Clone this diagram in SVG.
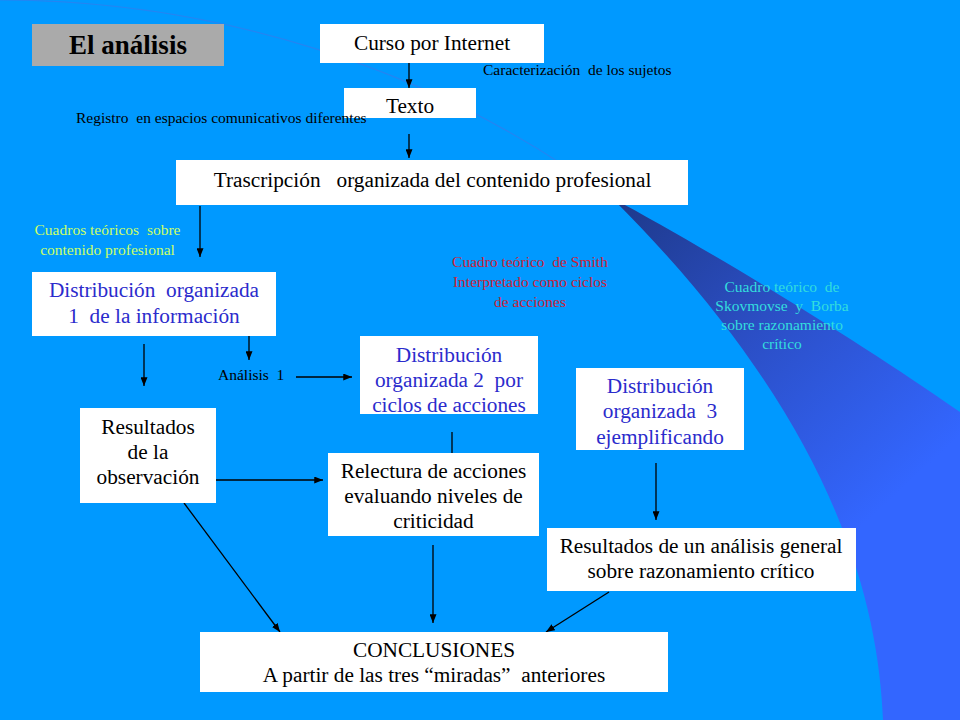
<svg xmlns="http://www.w3.org/2000/svg" width="960" height="720" viewBox="0 0 960 720">
<style>
.box{fill:#ffffff}
.t{font-size:21.3px;text-anchor:middle;fill:#000000;white-space:pre}
.b{fill:#2b2bcc}
.s{font-size:15.5px;fill:#000000;white-space:pre}
.m{text-anchor:middle}
.green{fill:#ccff66}
.red{fill:#cc2238}
.cyan{fill:#33dddd}
.ln{stroke:#000000;stroke-width:1.3;fill:none}
.arr{marker-end:url(#ah)}
</style>
<defs>
<marker id="ah" viewBox="0 0 10 8" refX="10" refY="4" markerWidth="9" markerHeight="7" markerUnits="userSpaceOnUse" orient="auto">
<path d="M0,0 L10,4 L0,8 Z" fill="#000000"/>
</marker>
<linearGradient id="wg" gradientUnits="userSpaceOnUse" x1="620" y1="205" x2="890" y2="500">
<stop offset="0" stop-color="#1e3a8c"/>
<stop offset="0.45" stop-color="#2b4ec4"/>
<stop offset="1" stop-color="#3366ff"/>
</linearGradient>
</defs>
<rect x="0" y="0" width="960" height="720" fill="#0099ff"/>
<g id="decoration">
<path d="M0,0 C200,0 430,60 620,205" fill="none" stroke="#2485f2" stroke-width="1.2"/>
<path d="M612,198 C700,245 850,335 960,412 L960,720 L883,720 C878,600 835,420 612,198 Z" fill="url(#wg)"/>
</g>
<g id="title">
<rect x="32" y="24" width="192" height="42" fill="#aaaaaa"/>
<text x="128" y="54" font-family="'Liberation Serif', 'Times New Roman', serif" font-size="27" font-weight="bold" text-anchor="middle" fill="#000000">El análisis</text>
</g>
<g id="connectors">
<line class="ln arr" x1="409" y1="57" x2="409" y2="88"/>
<line class="ln arr" x1="409" y1="134" x2="409" y2="158"/>
<line class="ln arr" x1="200" y1="206" x2="200" y2="257"/>
<line class="ln arr" x1="249" y1="336" x2="249" y2="360"/>
<line class="ln arr" x1="144" y1="344" x2="144" y2="386"/>
<line class="ln arr" x1="296" y1="377" x2="352" y2="377"/>
<line class="ln" x1="452" y1="432" x2="452" y2="453"/>
<line class="ln arr" x1="216" y1="480" x2="323" y2="480"/>
<line class="ln arr" x1="656" y1="463" x2="656" y2="520"/>
<line class="ln arr" x1="433" y1="545" x2="433" y2="623"/>
<line class="ln arr" x1="184" y1="503" x2="280" y2="632"/>
<line class="ln arr" x1="609" y1="592" x2="546" y2="632"/>
</g>
<g font-family="'Liberation Serif', 'Times New Roman', serif">
<g id="curso">
<rect class="box" x="320" y="24" width="224" height="39"/>
<text class="t" x="432" y="50">Curso por Internet</text>
</g>
<g id="texto">
<rect class="box" x="344" y="88" width="132" height="30"/>
<text class="t" x="410" y="113">Texto</text>
</g>
<g id="trascripcion">
<rect class="box" x="176" y="160" width="512" height="45"/>
<text class="t" x="432.5" y="187">Trascripción   organizada del contenido profesional</text>
</g>
<g id="labels">
<text class="s" x="483" y="75">Caracterización  de los sujetos</text>
<text class="s" x="76" y="123">Registro  en espacios comunicativos diferentes</text>
<text class="s m green" x="107.5" y="235">Cuadros teóricos  sobre</text>
<text class="s m green" x="107.5" y="255">contenido profesional</text>
<text class="s m red" x="530" y="267">Cuadro teórico  de Smith</text>
<text class="s m red" x="530" y="287">Interpretado como ciclos</text>
<text class="s m red" x="530" y="307">de acciones</text>
<text class="s m cyan" x="782" y="292">Cuadro teórico  de</text>
<text class="s m cyan" x="782" y="311">Skovmovse  y  Borba</text>
<text class="s m cyan" x="782" y="330">sobre razonamiento</text>
<text class="s m cyan" x="782" y="349">crítico</text>
<text class="s" x="218" y="380">Análisis  1</text>
</g>
<g id="dist1">
<rect class="box" x="32" y="272" width="244" height="64"/>
<text class="t b" x="154" y="297">Distribución  organizada</text>
<text class="t b" x="154" y="323">1  de la información</text>
</g>
<g id="dist2">
<rect class="box" x="360" y="336" width="178" height="78"/>
<text class="t b" x="449" y="362">Distribución</text>
<text class="t b" x="449" y="387">organizada 2  por</text>
<text class="t b" x="449" y="412">ciclos de acciones</text>
</g>
<g id="dist3">
<rect class="box" x="576" y="368" width="168" height="82"/>
<text class="t b" x="660" y="393">Distribución</text>
<text class="t b" x="660" y="418">organizada  3</text>
<text class="t b" x="660" y="444">ejemplificando</text>
</g>
<g id="observacion">
<rect class="box" x="80" y="408" width="136" height="95"/>
<text class="t" x="148" y="434">Resultados</text>
<text class="t" x="148" y="459">de la</text>
<text class="t" x="148" y="484">observación</text>
</g>
<g id="relectura">
<rect class="box" x="328" y="453" width="211" height="83"/>
<text class="t" x="433.5" y="478">Relectura de acciones</text>
<text class="t" x="433.5" y="503">evaluando niveles de</text>
<text class="t" x="433.5" y="528">criticidad</text>
</g>
<g id="general">
<rect class="box" x="547" y="528" width="309" height="63"/>
<text class="t" x="701" y="553">Resultados de un análisis general</text>
<text class="t" x="701" y="578">sobre razonamiento crítico</text>
</g>
<g id="conclusiones">
<rect class="box" x="200" y="632" width="468" height="60"/>
<text class="t" x="434" y="657">CONCLUSIONES</text>
<text class="t" x="434" y="682">A partir de las tres “miradas”  anteriores</text>
</g>
</g>
</svg>
